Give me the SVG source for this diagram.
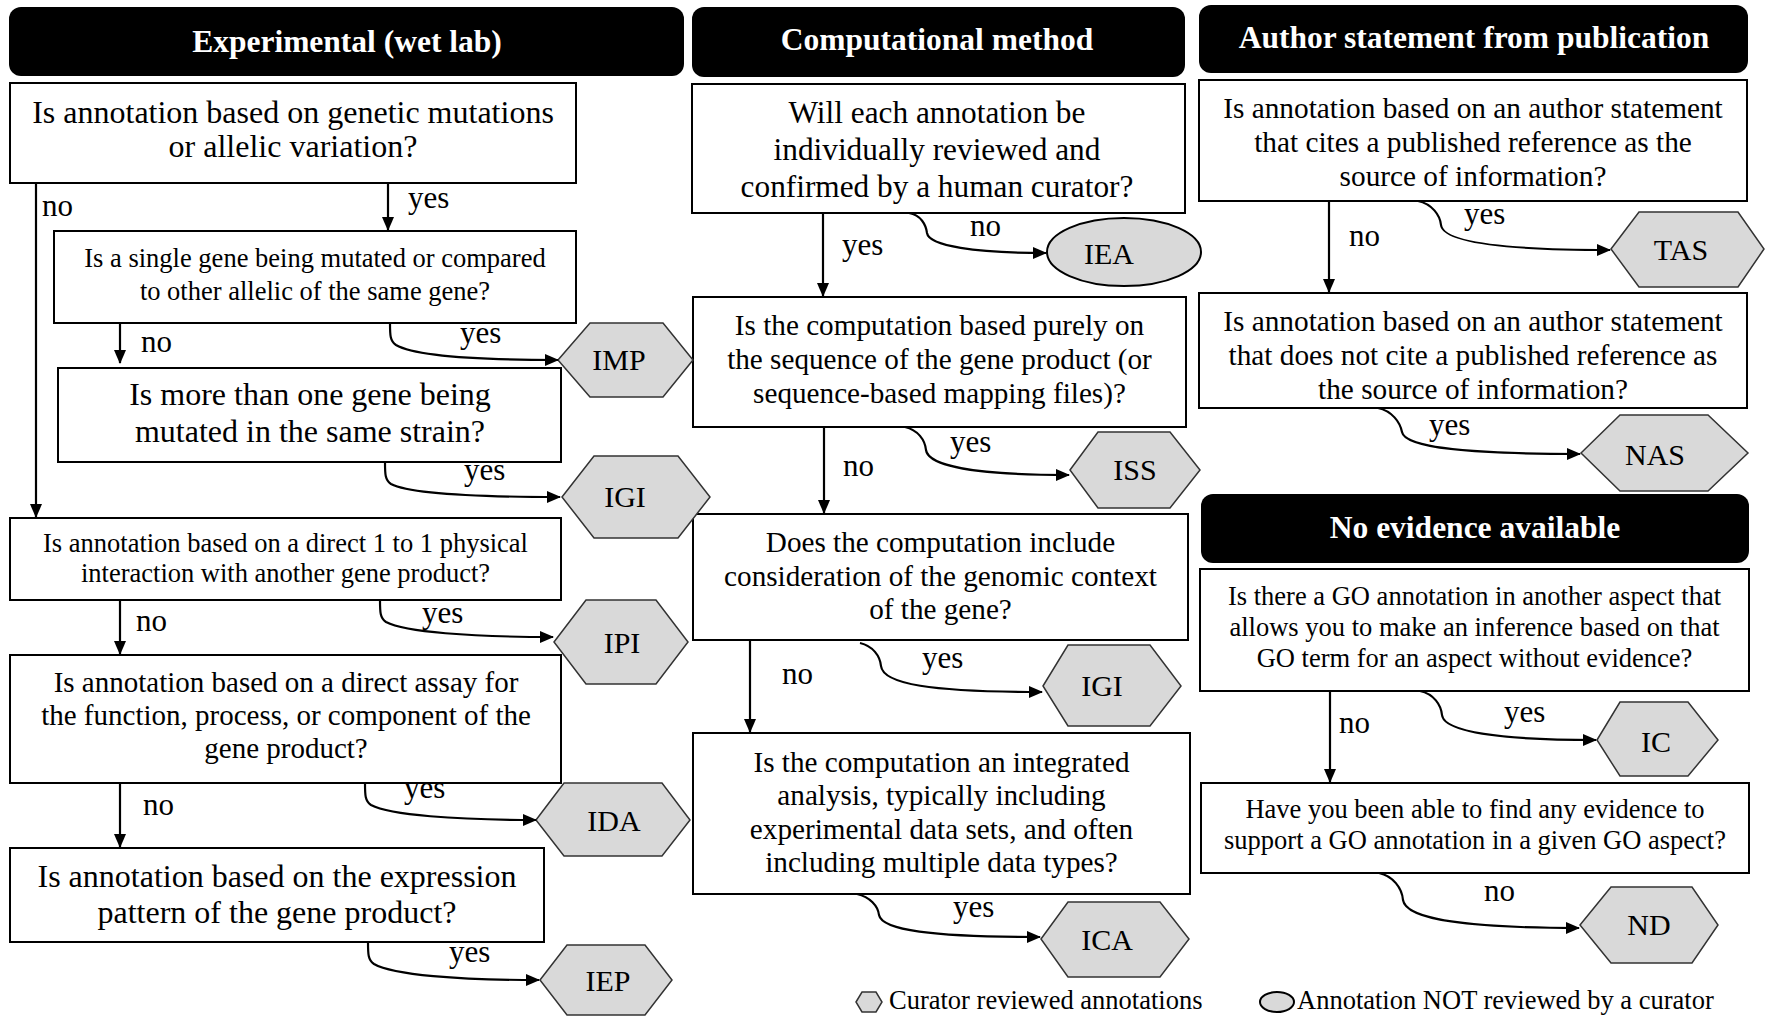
<svg xmlns="http://www.w3.org/2000/svg" width="1766" height="1016" viewBox="0 0 1766 1016">
  <style>
    .bg { fill: #ffffff; }
    .hdr { fill: #000000; }
    .hdrt { font-family: "Liberation Serif", "Times New Roman", serif; font-weight: bold; font-size: 31.5px; fill: #ffffff; text-anchor: middle; }
    .box { fill: #ffffff; stroke: #000000; stroke-width: 2; }
    .q { font-family: "Liberation Serif", "Times New Roman", serif; fill: #000000; text-anchor: middle; }
    .hex { fill: #d9d9d9; stroke: #333333; stroke-width: 1.5; }
    .oval { fill: #d9d9d9; stroke: #000000; stroke-width: 2; }
    .code { font-family: "Liberation Serif", "Times New Roman", serif; font-size: 30px; fill: #000000; text-anchor: middle; }
    .conn { fill: none; stroke: #000000; stroke-width: 2.2; marker-end: url(#ah); }
    .lbl { font-family: "Liberation Serif", "Times New Roman", serif; font-size: 31px; fill: #000000; }
    .leg { font-family: "Liberation Serif", "Times New Roman", serif; font-size: 26.5px; fill: #000000; }
  </style>
  <defs>
    <marker id="ah" markerUnits="userSpaceOnUse" markerWidth="14" markerHeight="12" refX="13" refY="6" orient="auto">
      <path d="M0,0 L14,6 L0,12 z" fill="#000000"/>
    </marker>
  </defs>

  <rect class="bg" x="0" y="0" width="1766" height="1016"/>

  <!-- Column headers -->
  <g id="hdr-experimental">
    <rect class="hdr" x="9" y="7" width="675" height="69" rx="12"/>
    <text class="hdrt" x="347" y="52">Experimental (wet lab)</text>
  </g>
  <g id="hdr-computational">
    <rect class="hdr" x="692" y="7" width="493" height="70" rx="12"/>
    <text class="hdrt" x="937" y="50">Computational method</text>
  </g>
  <g id="hdr-author">
    <rect class="hdr" x="1199" y="5" width="549" height="68" rx="12"/>
    <text class="hdrt" x="1474" y="48">Author statement from publication</text>
  </g>
  <g id="hdr-noevidence">
    <rect class="hdr" x="1201" y="494" width="548" height="69" rx="12"/>
    <text class="hdrt" x="1475" y="538">No evidence available</text>
  </g>

  <!-- Experimental questions -->
  <g id="q-mutation">
    <rect class="box" x="10" y="83" width="566" height="100"/>
    <text class="q" font-size="32" x="293" y="123">Is annotation based on genetic mutations</text>
    <text class="q" font-size="32" x="293" y="157">or allelic variation?</text>
  </g>
  <g id="q-single-gene">
    <rect class="box" x="54" y="231" width="522" height="92"/>
    <text class="q" font-size="26.5" x="315" y="267">Is a single gene being mutated or compared</text>
    <text class="q" font-size="26.5" x="315" y="300">to other allelic of the same gene?</text>
  </g>
  <g id="q-multi-gene">
    <rect class="box" x="58" y="368" width="503" height="94"/>
    <text class="q" font-size="32" x="310" y="405">Is more than one gene being</text>
    <text class="q" font-size="32" x="310" y="442">mutated in the same strain?</text>
  </g>
  <g id="q-physical">
    <rect class="box" x="10" y="518" width="551" height="82"/>
    <text class="q" font-size="26.5" x="285.5" y="552">Is annotation based on a direct 1 to 1 physical</text>
    <text class="q" font-size="26.5" x="285.5" y="582">interaction with another gene product?</text>
  </g>
  <g id="q-assay">
    <rect class="box" x="10" y="655" width="551" height="128"/>
    <text class="q" font-size="29" x="286" y="692">Is annotation based on a direct assay for</text>
    <text class="q" font-size="29" x="286" y="725">the function, process, or component of the</text>
    <text class="q" font-size="29" x="286" y="758">gene product?</text>
  </g>
  <g id="q-expression">
    <rect class="box" x="10" y="848" width="534" height="94"/>
    <text class="q" font-size="32" x="277" y="887">Is annotation based on the expression</text>
    <text class="q" font-size="32" x="277" y="923">pattern of the gene product?</text>
  </g>

  <!-- Computational questions -->
  <g id="q-curator">
    <rect class="box" x="692" y="84" width="493" height="129"/>
    <text class="q" font-size="31.3" x="937" y="123">Will each annotation be</text>
    <text class="q" font-size="31.3" x="937" y="160">individually reviewed and</text>
    <text class="q" font-size="31.3" x="937" y="197">confirmed by a human curator?</text>
  </g>
  <g id="q-sequence">
    <rect class="box" x="693" y="297" width="493" height="130"/>
    <text class="q" font-size="29.2" x="939.5" y="335">Is the computation based purely on</text>
    <text class="q" font-size="29.2" x="939.5" y="369">the sequence of the gene product (or</text>
    <text class="q" font-size="29.2" x="939.5" y="403">sequence-based mapping files)?</text>
  </g>
  <g id="q-genomic">
    <rect class="box" x="693" y="514" width="495" height="126"/>
    <text class="q" font-size="29.2" x="940.5" y="552">Does the computation include</text>
    <text class="q" font-size="29.2" x="940.5" y="586">consideration of the genomic context</text>
    <text class="q" font-size="29.2" x="940.5" y="619">of the gene?</text>
  </g>
  <g id="q-integrated">
    <rect class="box" x="693" y="733" width="497" height="161"/>
    <text class="q" font-size="29.2" x="941.5" y="772">Is the computation an integrated</text>
    <text class="q" font-size="29.2" x="941.5" y="805">analysis, typically including</text>
    <text class="q" font-size="29.2" x="941.5" y="839">experimental data sets, and often</text>
    <text class="q" font-size="29.2" x="941.5" y="872">including multiple data types?</text>
  </g>

  <!-- Author statement questions -->
  <g id="q-cites">
    <rect class="box" x="1199" y="80" width="548" height="121"/>
    <text class="q" font-size="29.3" x="1473" y="118">Is annotation based on an author statement</text>
    <text class="q" font-size="29.3" x="1473" y="152">that cites a published reference as the</text>
    <text class="q" font-size="29.3" x="1473" y="186">source of information?</text>
  </g>
  <g id="q-not-cites">
    <rect class="box" x="1199" y="293" width="548" height="115"/>
    <text class="q" font-size="29.3" x="1473" y="331">Is annotation based on an author statement</text>
    <text class="q" font-size="29.3" x="1473" y="365">that does not cite a published reference as</text>
    <text class="q" font-size="29.3" x="1473" y="399">the source of information?</text>
  </g>

  <!-- No evidence questions -->
  <g id="q-inference">
    <rect class="box" x="1200" y="569" width="549" height="122"/>
    <text class="q" font-size="26.5" x="1474.5" y="605">Is there a GO annotation in another aspect that</text>
    <text class="q" font-size="26.5" x="1474.5" y="636">allows you to make an inference based on that</text>
    <text class="q" font-size="26.5" x="1474.5" y="667">GO term for an aspect without evidence?</text>
  </g>
  <g id="q-any-evidence">
    <rect class="box" x="1201" y="783" width="548" height="90"/>
    <text class="q" font-size="26.5" x="1475" y="818">Have you been able to find any evidence to</text>
    <text class="q" font-size="26.5" x="1475" y="849">support a GO annotation in a given GO aspect?</text>
  </g>

  <!-- Evidence codes -->
  <g id="code-imp">
    <polygon class="hex" points="558,360 590,323 663,323 693,360 663,397 590,397"/>
    <text class="code" font-size="28" x="619" y="370">IMP</text>
  </g>
  <g id="code-igi-exp">
    <polygon class="hex" points="562,497 594,456 678,456 710,497 678,538 594,538"/>
    <text class="code" x="625" y="507">IGI</text>
  </g>
  <g id="code-ipi">
    <polygon class="hex" points="554,642 586,600 656,600 688,642 656,684 586,684"/>
    <text class="code" x="622" y="653">IPI</text>
  </g>
  <g id="code-ida">
    <polygon class="hex" points="536,820 564,783 662,783 690,820 662,856 564,856"/>
    <text class="code" x="614" y="831">IDA</text>
  </g>
  <g id="code-iep">
    <polygon class="hex" points="540,980 567,945 645,945 672,980 645,1015 567,1015"/>
    <text class="code" x="608" y="991">IEP</text>
  </g>
  <g id="code-iea">
    <ellipse class="oval" cx="1124" cy="252" rx="77" ry="34"/>
    <text class="code" font-size="28" x="1109" y="264">IEA</text>
  </g>
  <g id="code-iss">
    <polygon class="hex" points="1070,470 1098,432 1170,432 1200,470 1170,508 1098,508"/>
    <text class="code" x="1135" y="480">ISS</text>
  </g>
  <g id="code-igi-comp">
    <polygon class="hex" points="1043,686 1068,645 1150,645 1181,686 1150,726 1068,726"/>
    <text class="code" x="1102" y="696">IGI</text>
  </g>
  <g id="code-ica">
    <polygon class="hex" points="1041,939 1068,902 1160,902 1189,939 1160,977 1068,977"/>
    <text class="code" x="1107" y="950">ICA</text>
  </g>
  <g id="code-tas">
    <polygon class="hex" points="1611,249 1639,212 1738,212 1764,249 1738,287 1639,287"/>
    <text class="code" x="1681" y="260">TAS</text>
  </g>
  <g id="code-nas">
    <polygon class="hex" points="1581,453 1620,415 1708,415 1748,453 1708,491 1620,491"/>
    <text class="code" font-size="31" x="1655" y="465">NAS</text>
  </g>
  <g id="code-ic">
    <polygon class="hex" points="1597,740 1620,702 1688,702 1718,740 1688,776 1620,776"/>
    <text class="code" x="1656" y="752">IC</text>
  </g>
  <g id="code-nd">
    <polygon class="hex" points="1580,925 1611,887 1692,887 1718,925 1692,963 1611,963"/>
    <text class="code" x="1649" y="935">ND</text>
  </g>

  <!-- Connectors and their labels -->
  <g id="connectors">
    <!-- Experimental -->
    <path class="conn" d="M36,183 V517"/>
    <path class="conn" d="M388,183 V230"/>
    <path class="conn" d="M120,323 V363"/>
    <path class="conn" d="M390,323 C390,335 390,341 396,345 C415,356 480,360 558,360"/>
    <path class="conn" d="M385,462 C385,474 385,480 391,484 C410,494 480,497 560,497"/>
    <path class="conn" d="M120,600 V654"/>
    <path class="conn" d="M380,600 C380,612 380,618 386,622 C405,632 470,637 553,637"/>
    <path class="conn" d="M120,783 V847"/>
    <path class="conn" d="M365,783 C365,795 365,801 371,805 C390,815 455,820 536,820"/>
    <path class="conn" d="M368,942 C368,954 368,960 374,964 C393,975 458,980 539,980"/>
    <!-- Computational -->
    <path class="conn" d="M823,213 V296"/>
    <path class="conn" d="M909,213 C921,215 926,225 927,233 C929,246 975,253 1046,253"/>
    <path class="conn" d="M824,427 V513"/>
    <path class="conn" d="M905,427 C918,430 925,440 926,450 C928,465 970,475 1069,475"/>
    <path class="conn" d="M750,640 V732"/>
    <path class="conn" d="M860,643 C873,646 880,656 881,666 C883,684 930,692 1042,692"/>
    <path class="conn" d="M857,894 C870,897 878,906 879,915 C882,930 930,937 1040,937"/>
    <!-- Author statement -->
    <path class="conn" d="M1329,201 V292"/>
    <path class="conn" d="M1418,201 C1432,204 1440,215 1441,225 C1443,242 1500,250 1610,250"/>
    <path class="conn" d="M1378,408 C1392,411 1400,422 1402,432 C1405,448 1470,454 1580,454"/>
    <!-- No evidence -->
    <path class="conn" d="M1330,691 V782"/>
    <path class="conn" d="M1420,691 C1434,694 1441,705 1442,715 C1444,732 1500,740 1596,740"/>
    <path class="conn" d="M1379,873 C1393,876 1402,888 1403,900 C1406,920 1470,928 1579,928"/>

    <text class="lbl" x="42" y="216">no</text>
    <text class="lbl" x="408" y="208">yes</text>
    <text class="lbl" x="141" y="352">no</text>
    <text class="lbl" x="460" y="343">yes</text>
    <text class="lbl" x="464" y="480">yes</text>
    <text class="lbl" x="136" y="631">no</text>
    <text class="lbl" x="422" y="623">yes</text>
    <text class="lbl" x="143" y="815">no</text>
    <text class="lbl" x="404" y="798">yes</text>
    <text class="lbl" x="449" y="962">yes</text>

    <text class="lbl" x="842" y="255">yes</text>
    <text class="lbl" x="970" y="236">no</text>
    <text class="lbl" x="843" y="476">no</text>
    <text class="lbl" x="950" y="452">yes</text>
    <text class="lbl" x="782" y="684">no</text>
    <text class="lbl" x="922" y="668">yes</text>
    <text class="lbl" x="953" y="917">yes</text>

    <text class="lbl" x="1349" y="246">no</text>
    <text class="lbl" x="1464" y="224">yes</text>
    <text class="lbl" x="1429" y="435">yes</text>
    <text class="lbl" x="1339" y="733">no</text>
    <text class="lbl" x="1504" y="722">yes</text>
    <text class="lbl" x="1484" y="901">no</text>
  </g>

  <!-- Legend -->
  <g id="legend">
    <polygon class="hex" points="856,1002 862,992 876,992 882,1002 876,1012 862,1012"/>
    <text class="leg" x="889" y="1009">Curator reviewed annotations</text>
    <ellipse class="oval" cx="1277" cy="1002" rx="17" ry="10" stroke-width="1.5"/>
    <text class="leg" x="1297" y="1009">Annotation NOT reviewed by a curator</text>
  </g>
</svg>
